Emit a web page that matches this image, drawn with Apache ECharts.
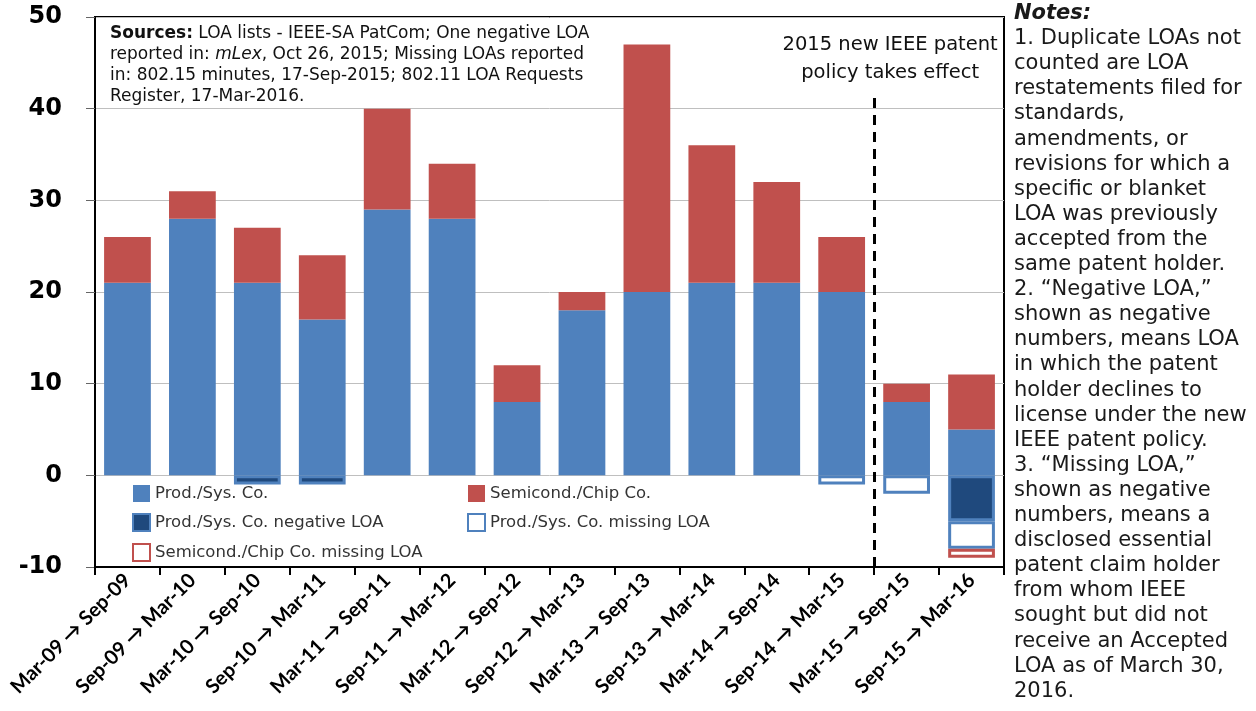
<!DOCTYPE html>
<html>
<head>
<meta charset="utf-8">
<script src="https://cdn.jsdelivr.net/npm/echarts@6/dist/echarts.min.js"></script>
<style>html,body{margin:0;padding:0;background:#fff}#c{width:1256px;height:711px}</style>
</head>
<body>
<div id="c"></div>
<script>
const categories = ['Mar-09 → Sep-09','Sep-09 → Mar-10','Mar-10 → Sep-10','Sep-10 → Mar-11','Mar-11 → Sep-11','Sep-11 → Mar-12','Mar-12 → Sep-12','Sep-12 → Mar-13','Mar-13 → Sep-13','Sep-13 → Mar-14','Mar-14 → Sep-14','Sep-14 → Mar-15','Mar-15 → Sep-15','Sep-15 → Mar-16'];
const prodSys        = [21, 28, 21, 17, 29, 28, 8, 18, 20, 21, 21, 20, 8, 5];
const semiChip       = [5, 3, 6, 7, 11, 6, 4, 2, 27, 15, 11, 6, 2, 6];
const prodNegative   = [null, null, -1, -1, null, null, null, null, null, null, null, null, null, -5];
const prodMissing    = [null, null, null, null, null, null, null, null, null, null, null, -1, -2, -3];
const semiMissing    = [null, null, null, null, null, null, null, null, null, null, null, null, null, -1];
const yTicks = {min: -10, max: 50, interval: 10};
const policyBoundary = 12;   // boundary before 'Mar-15 → Sep-15'

const BLUE = '#4F81BD', RED = '#C0504D', NAVY = '#1F497D';
const FF = "'DejaVu Sans', Verdana, sans-serif";
const chart = echarts.init(document.getElementById('c'));
const notes = ['{b|Notes:}','1. Duplicate LOAs not','counted are LOA','restatements filed for','standards,','amendments, or','revisions for which a','specific or blanket','LOA was previously','accepted from the','same patent holder.','2. “Negative LOA,”','shown as negative','numbers, means LOA','in which the patent','holder declines to','license under the new','IEEE patent policy.','3. “Missing LOA,”','shown as negative','numbers, means a','disclosed essential','patent claim holder','from whom IEEE','sought but did not','receive an Accepted','LOA as of March 30,','2016.'].join('\n');

chart.setOption({
  animation: false,
  backgroundColor: '#fff',
  title: [
    {
      left: 105, top: 18,
      text: '{b|Sources:} LOA lists - IEEE-SA PatCom; One negative LOA\nreported in: {i|mLex}, Oct 26, 2015; Missing LOAs reported\nin: 802.15 minutes, 17-Sep-2015; 802.11 LOA Requests\nRegister, 17-Mar-2016.',
      textStyle: {
        fontFamily: FF, fontSize: 17, fontWeight: 'normal', color: '#111', lineHeight: 21,
        rich: {
          b: {fontFamily: FF, fontSize: 17, fontWeight: 'bold', color: '#111', lineHeight: 21},
          i: {fontFamily: FF, fontSize: 17, fontStyle: 'italic', color: '#111', lineHeight: 21}
        }
      }
    },
    {
      left: 1009, top: -4,
      text: notes,
      textStyle: {
        fontFamily: FF, fontSize: 21, fontWeight: 'normal', color: '#1a1a1a', lineHeight: 25.1,
        rich: {
          b: {fontFamily: FF, fontSize: 21, fontWeight: 'bold', fontStyle: 'italic', color: '#1a1a1a', lineHeight: 25.1}
        }
      }
    }
  ],
  legend: [
    {
      left: 127, top: 480, orient: 'vertical', itemWidth: 17, itemHeight: 17, itemGap: 11, icon: 'rect',
      textStyle: {fontFamily: FF, fontSize: 16.5, color: '#333'},
      data: ['Prod./Sys. Co.', 'Prod./Sys. Co. negative LOA', 'Semicond./Chip Co. missing LOA']
    },
    {
      left: 462, top: 480, orient: 'vertical', itemWidth: 17, itemHeight: 17, itemGap: 11, icon: 'rect',
      textStyle: {fontFamily: FF, fontSize: 16.5, color: '#333'},
      data: ['Semicond./Chip Co.', 'Prod./Sys. Co. missing LOA']
    }
  ],
  grid: {left: 95, right: 252, top: 17, bottom: 144, show: true, borderColor: '#000', borderWidth: 2},
  xAxis: [
    {
      type: 'category', data: categories,
      axisLine: {onZero: false, lineStyle: {color: '#000', width: 2}},
      axisTick: {show: true, length: 8, lineStyle: {color: '#000', width: 2}},
      axisLabel: {interval: 0, rotate: 45, margin: 10, fontFamily: 'Lato', fontWeight: 'bold', fontSize: 20, color: '#000'},
      splitLine: {show: false}
    },
    {
      type: 'value', min: 0, max: categories.length, show: false
    }
  ],
  yAxis: {
    type: 'value', min: yTicks.min, max: yTicks.max, interval: yTicks.interval,
    axisLine: {show: true, lineStyle: {color: '#000', width: 2}},
    axisTick: {show: true, length: 9, lineStyle: {color: '#666', width: 1}},
    axisLabel: {margin: 33, fontFamily: FF, fontWeight: 'bold', fontSize: 24, color: '#000'},
    splitLine: {show: true, lineStyle: {color: '#bfbfbf', width: 1}}
  },
  series: [
    {name: 'Prod./Sys. Co.', type: 'bar', stack: 'a', barWidth: '72%', data: prodSys, itemStyle: {color: BLUE}},
    {name: 'Semicond./Chip Co.', type: 'bar', stack: 'a', data: semiChip, itemStyle: {color: RED}},
    {name: 'Prod./Sys. Co. negative LOA', type: 'bar', stack: 'a', data: prodNegative, itemStyle: {color: NAVY, borderColor: BLUE, borderWidth: 3}},
    {name: 'Prod./Sys. Co. missing LOA', type: 'bar', stack: 'a', data: prodMissing, itemStyle: {color: '#fff', borderColor: BLUE, borderWidth: 3}},
    {name: 'Semicond./Chip Co. missing LOA', type: 'bar', stack: 'a', data: semiMissing, itemStyle: {color: '#fff', borderColor: RED, borderWidth: 3}},
    {
      name: 'policy', type: 'scatter', xAxisIndex: 1, data: [], silent: true,
      markLine: {
        silent: true, symbol: 'none',
        lineStyle: {color: '#000', width: 3, type: [10, 7]},
        label: {
          show: true, position: 'end', distance: 8, offset: [16, 0],
          formatter: '2015 new IEEE patent\npolicy takes effect',
          fontFamily: FF, fontSize: 19.5, color: '#111', lineHeight: 28, align: 'center'
        },
        data: [[{coord: [policyBoundary, yTicks.min]}, {coord: [policyBoundary, 41.5]}]]
      }
    }
  ]
});
</script>
</body>
</html>
